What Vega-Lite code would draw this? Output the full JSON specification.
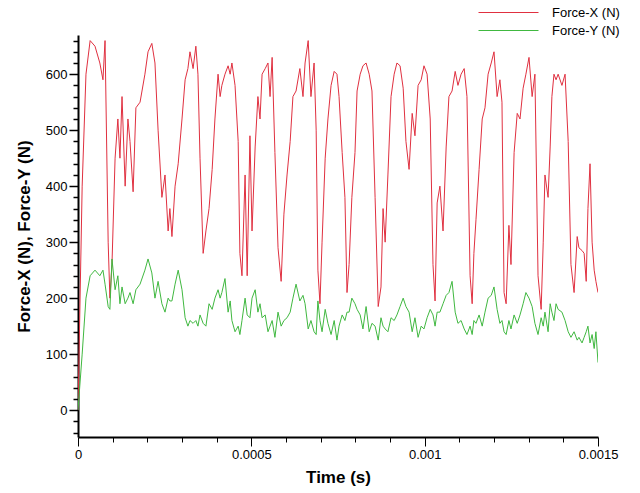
{
  "$schema": "https://vega.github.io/schema/vega-lite/v6.json",
  "width": 520,
  "height": 402,
  "autosize": "none",
  "padding": {"left": 78, "top": 35, "right": 42, "bottom": 56},
  "background": "white",
  "config": {"view": {"stroke": null}, "font": "Liberation Sans"},
  "data": {"values": [
    {"t":0,"fx":0,"fy":0},{"t":12,"fx":400,"fy":100},{"t":23,"fx":600,"fy":200},{"t":35,"fx":660,"fy":240},
    {"t":49,"fx":650,"fy":250},{"t":63,"fx":620,"fy":240},{"t":72,"fx":590,"fy":250},{"t":78,"fx":660,"fy":225},
    {"t":87,"fx":300,"fy":185},{"t":92,"fx":200,"fy":180},{"t":98,"fx":260,"fy":270},{"t":107,"fx":450,"fy":215},
    {"t":115,"fx":520,"fy":240},{"t":121,"fx":450,"fy":190},{"t":127,"fx":560,"fy":220},{"t":136,"fx":400,"fy":190},
    {"t":144,"fx":520,"fy":200},{"t":150,"fx":480,"fy":210},{"t":159,"fx":390,"fy":190},{"t":167,"fx":540,"fy":215},
    {"t":179,"fx":550,"fy":225},{"t":193,"fx":600,"fy":250},{"t":202,"fx":640,"fy":270},{"t":213,"fx":655,"fy":245},
    {"t":222,"fx":620,"fy":200},{"t":231,"fx":500,"fy":230},{"t":242,"fx":380,"fy":190},{"t":251,"fx":420,"fy":175},
    {"t":260,"fx":320,"fy":200},{"t":265,"fx":360,"fy":195},{"t":271,"fx":310,"fy":195},{"t":280,"fx":400,"fy":225},
    {"t":289,"fx":440,"fy":250},{"t":300,"fx":520,"fy":215},{"t":309,"fx":590,"fy":165},{"t":317,"fx":610,"fy":150},
    {"t":323,"fx":640,"fy":160},{"t":332,"fx":610,"fy":155},{"t":340,"fx":650,"fy":160},{"t":346,"fx":600,"fy":150},
    {"t":352,"fx":450,"fy":170},{"t":361,"fx":280,"fy":155},{"t":369,"fx":320,"fy":150},{"t":378,"fx":360,"fy":190},
    {"t":387,"fx":430,"fy":180},{"t":395,"fx":520,"fy":200},{"t":404,"fx":600,"fy":215},{"t":410,"fx":560,"fy":200},
    {"t":415,"fx":580,"fy":210},{"t":424,"fx":600,"fy":235},{"t":433,"fx":615,"fy":175},{"t":439,"fx":600,"fy":195},
    {"t":444,"fx":620,"fy":160},{"t":453,"fx":580,"fy":140},{"t":462,"fx":480,"fy":150},{"t":467,"fx":280,"fy":135},
    {"t":473,"fx":240,"fy":160},{"t":482,"fx":420,"fy":200},{"t":488,"fx":240,"fy":170},{"t":496,"fx":490,"fy":165},
    {"t":502,"fx":320,"fy":200},{"t":511,"fx":470,"fy":215},{"t":519,"fx":560,"fy":175},{"t":525,"fx":520,"fy":190},
    {"t":531,"fx":600,"fy":165},{"t":540,"fx":610,"fy":170},{"t":548,"fx":620,"fy":140},{"t":554,"fx":560,"fy":150},
    {"t":560,"fx":630,"fy":160},{"t":568,"fx":460,"fy":130},{"t":577,"fx":290,"fy":175},{"t":586,"fx":230,"fy":150},
    {"t":594,"fx":350,"fy":160},{"t":603,"fx":420,"fy":165},{"t":612,"fx":480,"fy":175},{"t":620,"fx":560,"fy":200},
    {"t":629,"fx":570,"fy":225},{"t":640,"fx":610,"fy":195},{"t":649,"fx":560,"fy":205},{"t":655,"fx":620,"fy":190},
    {"t":664,"fx":660,"fy":145},{"t":672,"fx":560,"fy":160},{"t":681,"fx":620,"fy":140},{"t":687,"fx":500,"fy":135},
    {"t":692,"fx":250,"fy":195},{"t":698,"fx":190,"fy":160},{"t":704,"fx":300,"fy":140},{"t":713,"fx":450,"fy":180},
    {"t":721,"fx":520,"fy":155},{"t":730,"fx":580,"fy":135},{"t":739,"fx":605,"fy":160},{"t":747,"fx":600,"fy":125},
    {"t":753,"fx":560,"fy":150},{"t":762,"fx":460,"fy":170},{"t":770,"fx":380,"fy":160},{"t":776,"fx":210,"fy":175},
    {"t":782,"fx":260,"fy":175},{"t":790,"fx":380,"fy":200},{"t":799,"fx":460,"fy":190},{"t":805,"fx":570,"fy":180},
    {"t":814,"fx":600,"fy":170},{"t":822,"fx":615,"fy":145},{"t":831,"fx":620,"fy":185},{"t":840,"fx":600,"fy":140},
    {"t":848,"fx":570,"fy":155},{"t":857,"fx":380,"fy":150},{"t":866,"fx":185,"fy":125},{"t":874,"fx":220,"fy":165},
    {"t":880,"fx":360,"fy":150},{"t":886,"fx":300,"fy":145},{"t":894,"fx":420,"fy":140},{"t":903,"fx":560,"fy":165},
    {"t":912,"fx":600,"fy":160},{"t":920,"fx":620,"fy":170},{"t":929,"fx":615,"fy":185},{"t":938,"fx":575,"fy":200},
    {"t":946,"fx":480,"fy":185},{"t":955,"fx":430,"fy":175},{"t":964,"fx":530,"fy":140},{"t":972,"fx":490,"fy":165},
    {"t":981,"fx":580,"fy":130},{"t":990,"fx":590,"fy":150},{"t":998,"fx":615,"fy":145},{"t":1007,"fx":600,"fy":165},
    {"t":1016,"fx":520,"fy":180},{"t":1024,"fx":260,"fy":170},{"t":1030,"fx":195,"fy":150},{"t":1036,"fx":370,"fy":175},
    {"t":1044,"fx":400,"fy":175},{"t":1053,"fx":320,"fy":190},{"t":1062,"fx":470,"fy":205},{"t":1070,"fx":560,"fy":210},
    {"t":1079,"fx":570,"fy":230},{"t":1088,"fx":605,"fy":175},{"t":1096,"fx":580,"fy":155},{"t":1105,"fx":600,"fy":160},
    {"t":1114,"fx":610,"fy":145},{"t":1122,"fx":560,"fy":135},{"t":1131,"fx":240,"fy":150},{"t":1137,"fx":190,"fy":135},
    {"t":1142,"fx":280,"fy":160},{"t":1148,"fx":340,"fy":155},{"t":1157,"fx":430,"fy":170},{"t":1166,"fx":520,"fy":150},
    {"t":1174,"fx":540,"fy":175},{"t":1183,"fx":600,"fy":200},{"t":1192,"fx":620,"fy":205},{"t":1200,"fx":640,"fy":220},
    {"t":1209,"fx":560,"fy":180},{"t":1217,"fx":590,"fy":155},{"t":1223,"fx":550,"fy":160},{"t":1229,"fx":210,"fy":140},
    {"t":1235,"fx":190,"fy":135},{"t":1243,"fx":330,"fy":160},{"t":1249,"fx":260,"fy":145},{"t":1258,"fx":460,"fy":170},
    {"t":1267,"fx":530,"fy":155},{"t":1275,"fx":520,"fy":170},{"t":1284,"fx":575,"fy":190},{"t":1292,"fx":600,"fy":210},
    {"t":1301,"fx":630,"fy":200},{"t":1310,"fx":560,"fy":185},{"t":1318,"fx":600,"fy":155},{"t":1327,"fx":240,"fy":135},
    {"t":1336,"fx":180,"fy":165},{"t":1342,"fx":300,"fy":150},{"t":1347,"fx":420,"fy":175},{"t":1356,"fx":380,"fy":140},
    {"t":1362,"fx":470,"fy":190},{"t":1367,"fx":560,"fy":175},{"t":1373,"fx":600,"fy":160},{"t":1379,"fx":590,"fy":190},
    {"t":1385,"fx":600,"fy":180},{"t":1396,"fx":580,"fy":175},{"t":1405,"fx":600,"fy":160},{"t":1414,"fx":480,"fy":140},
    {"t":1422,"fx":260,"fy":130},{"t":1431,"fx":210,"fy":140},{"t":1440,"fx":310,"fy":125},{"t":1445,"fx":290,"fy":130},
    {"t":1454,"fx":285,"fy":120},{"t":1460,"fx":280,"fy":130},{"t":1466,"fx":230,"fy":140},{"t":1471,"fx":360,"fy":150},
    {"t":1477,"fx":440,"fy":120},{"t":1483,"fx":300,"fy":135},{"t":1489,"fx":250,"fy":110},{"t":1494,"fx":230,"fy":140},
    {"t":1500,"fx":210,"fy":85}
  ]},
  "transform": [{"fold": ["fx", "fy"], "as": ["series", "value"]}],
  "mark": {"type": "line", "strokeWidth": 1, "clip": true},
  "encoding": {
    "x": {
      "field": "t", "type": "quantitative",
      "scale": {"domain": [0, 1500], "nice": false, "zero": false},
      "axis": {
        "title": "Time (s)", "titleFontSize": 17, "titleFontWeight": "bold", "titleColor": "black", "titlePadding": 8,
        "values": [0,100,200,300,400,500,600,700,800,900,1000,1100,1200,1300,1400,1500],
        "labelExpr": "datum.value % 500 === 0 ? (datum.value === 0 ? '0' : format(datum.value / 1000000, '~g')) : ''",
        "labelFontSize": 13, "labelColor": "black", "labelFlush": false,
        "domainColor": "black", "domainWidth": 2, "tickColor": "black", "tickWidth": 1,
        "tickSize": {"condition": {"test": "datum.value % 500 === 0", "value": 9}, "value": 5},
        "grid": false
      }
    },
    "y": {
      "field": "value", "type": "quantitative",
      "scale": {"domain": [-48, 670], "nice": false, "zero": false},
      "axis": {
        "title": "Force-X (N), Force-Y (N)", "titleFontSize": 17, "titleFontWeight": "bold", "titleColor": "black", "titlePadding": 12,
        "values": [-40,-20,0,20,40,60,80,100,120,140,160,180,200,220,240,260,280,300,320,340,360,380,400,420,440,460,480,500,520,540,560,580,600,620,640,660],
        "labelExpr": "datum.value % 100 === 0 ? datum.label : ''",
        "labelFontSize": 13, "labelColor": "black",
        "domainColor": "black", "domainWidth": 2, "tickColor": "black", "tickWidth": 1.5,
        "tickSize": {"condition": {"test": "datum.value % 100 === 0", "value": 9}, "value": 5},
        "grid": false
      }
    },
    "color": {
      "field": "series", "type": "nominal",
      "scale": {"domain": ["fx", "fy"], "range": ["#e03040", "#40b840"]},
      "legend": {
        "title": null, "orient": "none", "legendX": 420, "legendY": -33,
        "symbolType": "M-3,0H3", "symbolSize": 400, "symbolStrokeWidth": 1,
        "labelExpr": "datum.value === 'fx' ? 'Force-X (N)' : 'Force-Y (N)'",
        "labelFontSize": 13, "labelColor": "black", "rowPadding": 0, "labelOffset": 33
      }
    }
  }
}
